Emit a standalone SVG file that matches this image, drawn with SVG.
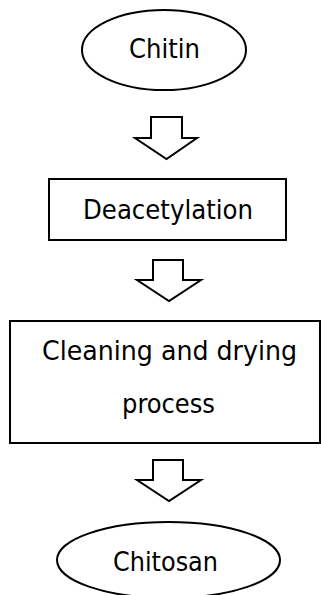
<svg xmlns="http://www.w3.org/2000/svg" width="321" height="595" viewBox="0 0 321 595">
<style>
.shape{fill:#fff;stroke:#000;stroke-width:2}
.arrow{fill:#fff;stroke:#000;stroke-width:2;stroke-linejoin:miter}
.lbl{font-family:"DejaVu Sans Condensed","DejaVu Sans",sans-serif;font-size:27px;fill:#000;text-anchor:middle}
</style>
<rect width="321" height="595" fill="#fff"/>
<g id="connectors">
<path class="arrow" d="M151,117 H182 V138 H197 L166.5,159 L135,138 H151 Z"/>
<path class="arrow" d="M153,260 H183 V280 H201 L169,301 L137,280 H153 Z"/>
<path class="arrow" d="M153,460 H183 V480 H201 L169,501 L137,480 H153 Z"/>
</g>
<g id="chitin">
<ellipse class="shape" cx="164" cy="50" rx="82" ry="40"/>
<text class="lbl" x="164.5" y="58" textLength="71" lengthAdjust="spacingAndGlyphs">Chitin</text>
</g>
<g id="deacetylation">
<rect class="shape" x="49" y="179" width="237" height="61"/>
<text class="lbl" x="168" y="219" textLength="170" lengthAdjust="spacingAndGlyphs">Deacetylation</text>
</g>
<g id="cleaning">
<rect class="shape" x="10" y="321" width="310" height="122"/>
<text class="lbl" x="169.5" y="360" textLength="255" lengthAdjust="spacingAndGlyphs">Cleaning and drying</text>
<text class="lbl" x="168.5" y="413" textLength="93" lengthAdjust="spacingAndGlyphs">process</text>
</g>
<g id="chitosan">
<ellipse class="shape" cx="168.5" cy="560" rx="111.5" ry="38"/>
<text class="lbl" x="165.5" y="571" textLength="105" lengthAdjust="spacingAndGlyphs">Chitosan</text>
</g>
</svg>
